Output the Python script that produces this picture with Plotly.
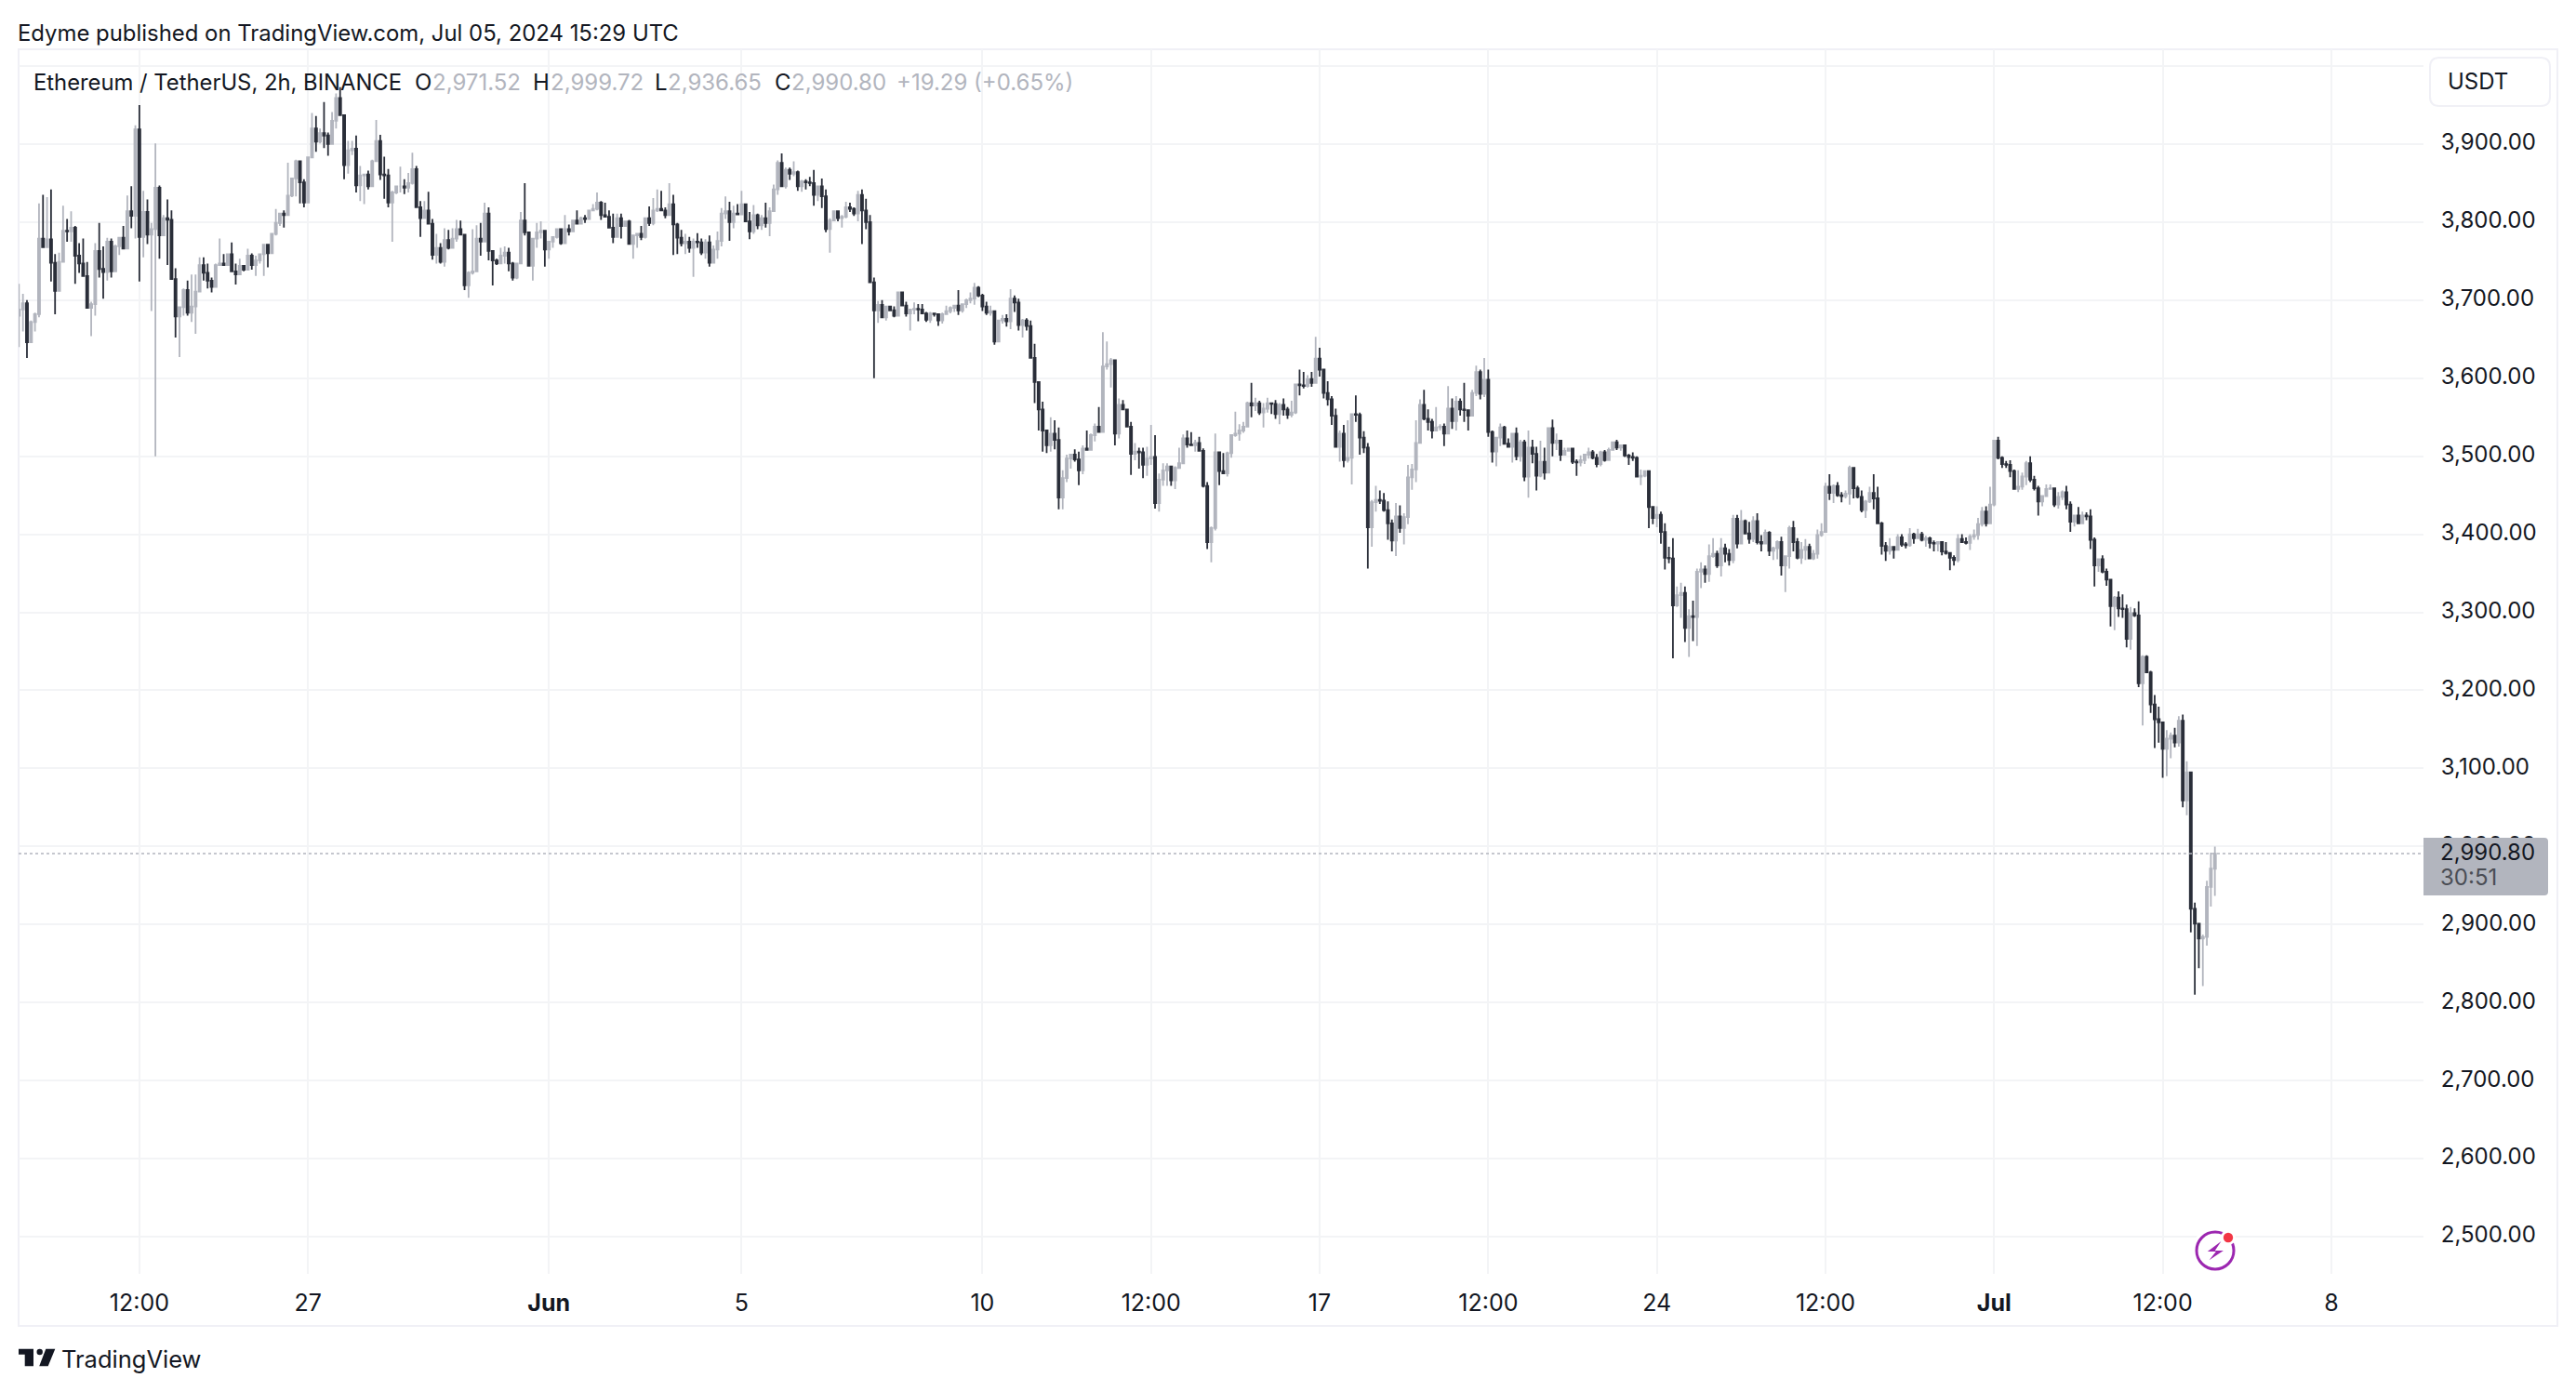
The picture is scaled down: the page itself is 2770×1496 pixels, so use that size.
import pandas as pd
import plotly.graph_objects as go

# ---- data (ETH/USDT, 2h bars) ----
first_open = 3680
close_prices = [
 3688,3696,3646,3672,3682,3779,3768,3778,3748,3712,
 3749,3789,3788,3793,3757,3747,3731,3690,3695,3763,
 3740,3736,3775,3737,3769,3780,3766,3814,3808,3919,
 3781,3813,3784,3791,3844,3783,3805,3803,3727,3679,
 3691,3713,3684,3692,3711,3745,3735,3725,3717,3745,
 3747,3745,3759,3737,3733,3744,3739,3757,3745,3751,
 3759,3771,3760,3785,3799,3811,3809,3834,3856,3878,
 3851,3825,3883,3920,3903,3914,3911,3900,3930,3959,
 3937,3873,3892,3894,3847,3860,3861,3846,3878,3904,
 3861,3860,3825,3838,3846,3846,3844,3850,3868,3819,
 3805,3815,3798,3758,3767,3749,3777,3767,3779,3791,
 3784,3719,3735,3737,3779,3775,3811,3763,3751,3747,
 3757,3761,3747,3729,3747,3802,3787,3744,3779,3787,
 3789,3765,3775,3781,3791,3773,3791,3788,3802,3798,
 3805,3804,3815,3817,3825,3809,3807,3793,3781,3805,
 3795,3801,3772,3783,3785,3781,3805,3799,3815,3817,
 3815,3809,3823,3797,3780,3773,3775,3767,3775,3774,
 3761,3774,3748,3765,3776,3811,3814,3800,3811,3810,
 3823,3801,3788,3809,3796,3805,3799,3814,3842,3876,
 3846,3867,3862,3864,3846,3852,3851,3850,3835,3846,
 3833,3791,3802,3814,3805,3807,3819,3817,3811,3835,
 3815,3800,3723,3687,3694,3678,3692,3687,3680,3710,
 3693,3683,3688,3689,3688,3683,3675,3683,3682,3674,
 3682,3686,3690,3693,3687,3695,3700,3702,3716,3706,
 3692,3684,3686,3647,3674,3676,3673,3702,3697,3668,
 3674,3667,3626,3595,3560,3533,3514,3529,3521,3447,
 3472,3497,3502,3496,3482,3510,3508,3527,3538,3531,
 3615,3618,3623,3529,3566,3560,3538,3503,3506,3505,
 3489,3497,3499,3440,3470,3482,3487,3469,3485,3491,
 3523,3515,3514,3517,3507,3462,3390,3408,3505,3481,
 3478,3504,3527,3529,3533,3538,3568,3565,3568,3556,
 3561,3568,3567,3554,3566,3560,3553,3556,3592,3591,
 3590,3599,3594,3625,3611,3581,3573,3552,3512,3529,
 3495,3498,3554,3553,3524,3511,3409,3441,3444,3443,
 3431,3414,3392,3423,3408,3422,3473,3483,3517,3566,
 3548,3544,3533,3537,3538,3529,3561,3545,3570,3560,
 3559,3552,3581,3608,3580,3598,3531,3506,3524,3537,
 3516,3512,3529,3500,3518,3474,3511,3503,3475,3493,
 3479,3536,3517,3520,3502,3507,3510,3493,3492,3495,
 3502,3505,3498,3490,3505,3495,3508,3518,3511,3514,
 3501,3499,3498,3474,3475,3481,3435,3421,3425,3403,
 3370,3369,3309,3322,3325,3280,3295,3294,3352,3355,
 3349,3372,3375,3360,3382,3375,3367,3420,3388,3417,
 3401,3394,3417,3390,3388,3402,3379,3382,3390,3360,
 3372,3408,3390,3370,3380,3384,3369,3375,3399,3403,
 3461,3453,3462,3450,3449,3452,3485,3459,3448,3431,
 3442,3453,3446,3414,3385,3379,3384,3380,3396,3387,
 3386,3400,3395,3400,3393,3395,3389,3388,3390,3378,
 3376,3370,3367,3394,3390,3389,3397,3399,3413,3429,
 3414,3438,3520,3498,3490,3489,3481,3458,3461,3474,
 3491,3470,3459,3442,3449,3458,3459,3438,3448,3454,
 3438,3416,3424,3414,3424,3423,3393,3360,3368,3352,
 3342,3308,3319,3305,3304,3266,3299,3296,3209,3243,
 3223,3182,3163,3159,3125,3138,3142,3133,3161,3059,
 3095,2920,2901,2882,2884,2948,2971.52,2990.80,
]
high_prices = [
 3721,3708,3700,3674,3684,3824,3835,3832,3842,3759,
 3761,3821,3804,3814,3795,3773,3779,3749,3698,3773,
 3799,3769,3780,3779,3771,3781,3795,3834,3846,3924,
 3950,3840,3829,3799,3901,3847,3809,3829,3815,3741,
 3692,3715,3725,3733,3733,3755,3755,3747,3729,3747,
 3779,3759,3760,3774,3747,3753,3745,3766,3760,3757,
 3760,3772,3772,3786,3817,3812,3815,3876,3857,3880,
 3879,3855,3884,3940,3936,3920,3954,3915,3941,3965,
 3973,3938,3904,3904,3911,3872,3861,3866,3880,3931,
 3912,3884,3868,3840,3846,3871,3855,3863,3889,3872,
 3827,3827,3839,3804,3785,3773,3792,3790,3792,3803,
 3802,3785,3737,3791,3796,3799,3825,3819,3763,3753,
 3767,3769,3767,3749,3747,3813,3850,3788,3779,3799,
 3801,3790,3775,3781,3791,3792,3809,3797,3803,3815,
 3807,3809,3815,3823,3838,3827,3825,3815,3811,3811,
 3811,3802,3803,3783,3785,3795,3805,3820,3831,3842,
 3840,3819,3850,3835,3799,3790,3785,3781,3779,3786,
 3779,3778,3783,3770,3788,3818,3833,3826,3821,3823,
 3840,3824,3813,3822,3811,3809,3825,3819,3848,3879,
 3888,3870,3870,3878,3866,3854,3855,3858,3867,3847,
 3856,3842,3805,3815,3815,3809,3826,3825,3819,3840,
 3842,3830,3809,3729,3699,3700,3692,3693,3692,3710,
 3710,3698,3689,3697,3695,3695,3685,3685,3684,3683,
 3684,3693,3692,3693,3713,3695,3702,3710,3722,3718,
 3708,3698,3693,3685,3675,3681,3682,3714,3706,3702,
 3676,3677,3674,3644,3596,3570,3534,3550,3546,3537,
 3482,3502,3503,3509,3506,3514,3533,3529,3542,3563,
 3659,3647,3626,3624,3574,3572,3561,3544,3517,3511,
 3511,3512,3540,3527,3478,3491,3491,3488,3487,3511,
 3528,3533,3531,3521,3525,3510,3467,3410,3529,3506,
 3504,3506,3528,3557,3541,3544,3570,3594,3575,3571,
 3568,3575,3569,3572,3568,3574,3563,3571,3593,3611,
 3608,3604,3608,3653,3639,3612,3596,3577,3561,3533,
 3540,3546,3555,3578,3556,3532,3517,3444,3462,3456,
 3453,3442,3419,3440,3437,3427,3489,3490,3546,3573,
 3585,3560,3548,3563,3541,3542,3590,3574,3577,3574,
 3594,3560,3585,3616,3611,3626,3611,3533,3525,3542,
 3539,3523,3530,3537,3521,3521,3533,3521,3512,3520,
 3511,3537,3547,3529,3521,3511,3511,3510,3496,3501,
 3503,3511,3508,3503,3507,3508,3511,3519,3521,3514,
 3513,3503,3505,3500,3483,3482,3481,3436,3436,3429,
 3414,3384,3395,3333,3338,3333,3304,3315,3356,3364,
 3360,3387,3395,3379,3395,3388,3381,3425,3425,3431,
 3419,3416,3423,3427,3399,3406,3404,3384,3392,3397,
 3373,3411,3417,3395,3390,3394,3388,3380,3406,3414,
 3466,3477,3464,3467,3454,3456,3488,3486,3462,3456,
 3444,3461,3477,3461,3416,3390,3395,3384,3400,3400,
 3390,3408,3402,3407,3403,3398,3397,3392,3391,3390,
 3390,3377,3373,3400,3400,3396,3400,3406,3421,3435,
 3436,3461,3521,3525,3500,3494,3495,3483,3482,3479,
 3494,3500,3475,3462,3449,3464,3464,3460,3454,3456,
 3462,3442,3425,3435,3429,3428,3432,3396,3369,3373,
 3356,3342,3321,3327,3323,3310,3307,3305,3314,3245,
 3245,3225,3194,3179,3160,3149,3146,3152,3167,3169,
 3109,3095,2928,2902,2887,2956,2992,2999.72,
]
low_prices = [
 3640,3660,3626,3646,3660,3678,3767,3767,3724,3682,
 3711,3748,3775,3775,3721,3735,3730,3689,3654,3680,
 3729,3702,3725,3729,3736,3758,3765,3766,3792,3779,
 3724,3755,3772,3686,3500,3753,3782,3745,3726,3652,
 3627,3680,3680,3672,3657,3711,3725,3715,3710,3716,
 3745,3745,3745,3737,3720,3733,3737,3738,3739,3731,
 3747,3731,3742,3759,3783,3795,3793,3808,3832,3833,
 3824,3819,3824,3882,3890,3901,3895,3885,3899,3920,
 3936,3855,3862,3886,3838,3827,3823,3842,3846,3878,
 3854,3830,3819,3775,3836,3838,3836,3838,3848,3819,
 3781,3805,3798,3752,3747,3747,3743,3765,3767,3775,
 3783,3713,3703,3733,3736,3757,3775,3751,3719,3745,
 3746,3747,3737,3725,3727,3746,3783,3743,3725,3767,
 3779,3743,3753,3767,3779,3771,3783,3783,3793,3798,
 3797,3799,3803,3814,3815,3803,3807,3793,3773,3787,
 3779,3795,3771,3753,3767,3777,3779,3795,3796,3813,
 3814,3805,3809,3758,3759,3769,3759,3761,3730,3767,
 3758,3753,3743,3747,3753,3769,3804,3776,3792,3809,
 3809,3800,3778,3785,3791,3790,3793,3782,3813,3835,
 3845,3843,3854,3859,3840,3839,3842,3846,3821,3827,
 3818,3787,3761,3801,3801,3793,3805,3813,3808,3801,
 3772,3791,3722,3600,3671,3677,3674,3686,3678,3680,
 3692,3679,3661,3682,3673,3682,3672,3671,3679,3667,
 3670,3681,3683,3685,3681,3684,3690,3696,3694,3704,
 3686,3681,3680,3643,3646,3670,3666,3663,3685,3661,
 3652,3661,3626,3568,3533,3506,3504,3506,3509,3432,
 3432,3467,3484,3493,3463,3477,3507,3508,3519,3530,
 3531,3611,3588,3514,3523,3559,3537,3476,3495,3484,
 3472,3475,3489,3433,3429,3462,3462,3462,3458,3485,
 3490,3511,3513,3506,3507,3460,3381,3364,3405,3463,
 3477,3474,3498,3525,3520,3530,3537,3550,3558,3553,
 3537,3556,3554,3548,3541,3552,3548,3550,3554,3578,
 3587,3588,3589,3594,3602,3574,3565,3540,3511,3493,
 3486,3492,3464,3544,3502,3504,3356,3384,3429,3439,
 3429,3393,3378,3372,3402,3387,3413,3457,3467,3517,
 3546,3533,3523,3533,3533,3513,3529,3535,3533,3552,
 3544,3533,3552,3577,3573,3576,3525,3492,3487,3513,
 3515,3511,3492,3495,3493,3468,3447,3491,3456,3473,
 3470,3478,3500,3508,3494,3501,3506,3490,3475,3487,
 3490,3497,3496,3486,3487,3493,3494,3507,3508,3507,
 3499,3489,3494,3473,3463,3473,3408,3413,3409,3388,
 3355,3363,3241,3307,3293,3262,3243,3263,3257,3331,
 3338,3339,3370,3357,3346,3364,3360,3363,3382,3387,
 3400,3388,3390,3387,3378,3387,3372,3367,3368,3347,
 3326,3356,3378,3368,3362,3367,3368,3367,3369,3397,
 3402,3444,3440,3448,3441,3446,3438,3446,3446,3428,
 3421,3440,3432,3413,3374,3366,3374,3369,3379,3384,
 3382,3384,3388,3394,3391,3384,3382,3378,3378,3373,
 3374,3354,3360,3364,3389,3387,3380,3393,3393,3410,
 3410,3413,3436,3496,3485,3485,3473,3458,3454,3457,
 3463,3467,3456,3424,3436,3448,3457,3435,3433,3444,
 3432,3403,3410,3413,3414,3418,3381,3333,3352,3350,
 3334,3282,3277,3294,3293,3255,3252,3294,3204,3155,
 3223,3171,3126,3133,3088,3090,3113,3127,3128,3050,
 3040,2890,2810,2844,2821,2873,2923,2936.65,
]
open_prices = [first_open] + close_prices[:-1]
bar_times = pd.date_range("2024-05-21 00:00", periods=len(close_prices), freq="2h")

price_ticks = list(range(2500, 4001, 100))
price_labels = [f"{p:,.2f}" if p < 4000 else "" for p in price_ticks]
time_ticks = ["2024-05-23 12:00", "2024-05-27", "2024-06-01", "2024-06-05", "2024-06-10",
              "2024-06-13 12:00", "2024-06-17", "2024-06-20 12:00", "2024-06-24",
              "2024-06-27 12:00", "2024-07-01", "2024-07-04 12:00", "2024-07-08"]
time_labels = ["12:00", "27", "<b>Jun</b>", "5", "10", "12:00", "17", "12:00", "24",
               "12:00", "<b>Jul</b>", "12:00", "8"]

UP, DOWN = "#B2B5BE", "#2A2E39"
INK, GRID, EDGE = "#131722", "#F3F4F6", "#F0F0F6"
FONT = "Inter"
W, H = 2770, 1496
L, R, T, B = 20, 2606, 53, 1370


def fx(px):
    return (px - L) / (R - L)


def fy(py):
    return (B - py) / (B - T)


def path(points, close=True):
    s = "M" + " L".join(f"{fx(a):.6f},{fy(b):.6f}" for a, b in points)
    return s + (" Z" if close else "")


def label(px, py, text, size=24, color=INK, xanchor="left"):
    return dict(xref="paper", yref="paper", x=fx(px), y=fy(py), text=text, showarrow=False,
                xanchor=xanchor, yanchor="middle", borderpad=0,
                font=dict(family=FONT, size=size, color=color))


def circle(cx, cy, r, fill=None, line=None, width=0):
    return dict(type="circle", xref="paper", yref="paper", layer="above",
                x0=fx(cx - r), x1=fx(cx + r), y0=fy(cy + r), y1=fy(cy - r),
                fillcolor=fill or "rgba(0,0,0,0)", line=dict(color=line or "rgba(0,0,0,0)", width=width))


def rounded(x0, y0, x1, y1, r):
    return (f"M{fx(x0 + r):.6f},{fy(y0):.6f} L{fx(x1 - r):.6f},{fy(y0):.6f} "
            f"Q{fx(x1):.6f},{fy(y0):.6f} {fx(x1):.6f},{fy(y0 + r):.6f} "
            f"L{fx(x1):.6f},{fy(y1 - r):.6f} Q{fx(x1):.6f},{fy(y1):.6f} {fx(x1 - r):.6f},{fy(y1):.6f} "
            f"L{fx(x0 + r):.6f},{fy(y1):.6f} Q{fx(x0):.6f},{fy(y1):.6f} {fx(x0):.6f},{fy(y1 - r):.6f} "
            f"L{fx(x0):.6f},{fy(y0 + r):.6f} Q{fx(x0):.6f},{fy(y0):.6f} {fx(x0 + r):.6f},{fy(y0):.6f} Z")


fig = go.Figure(go.Candlestick(
    x=bar_times, open=open_prices, high=high_prices, low=low_prices, close=close_prices,
    increasing=dict(line=dict(color=UP, width=1.8), fillcolor=UP),
    decreasing=dict(line=dict(color=DOWN, width=1.8), fillcolor=DOWN),
    whiskerwidth=0, showlegend=False,
))

shapes = [
    # outer frame
    dict(type="rect", xref="paper", yref="paper", layer="below", x0=0, x1=fx(2750), y0=fy(1426), y1=1,
         line=dict(color=EDGE, width=2), fillcolor="rgba(0,0,0,0)"),
    # last price line
    dict(type="line", xref="paper", yref="y", layer="above", x0=0, x1=1,
         y0=close_prices[-1], y1=close_prices[-1], line=dict(color=UP, width=1.5, dash="dot")),
    # price tag
    dict(type="path", xref="paper", yref="paper", layer="above",
         path=(f"M{fx(2606):.6f},{fy(901):.6f} L{fx(2736):.6f},{fy(901):.6f} "
               f"Q{fx(2740):.6f},{fy(901):.6f} {fx(2740):.6f},{fy(905):.6f} "
               f"L{fx(2740):.6f},{fy(959):.6f} Q{fx(2740):.6f},{fy(963):.6f} {fx(2736):.6f},{fy(963):.6f} "
               f"L{fx(2606):.6f},{fy(963):.6f} Z"),
         fillcolor=UP, line=dict(width=0)),
    # currency button
    dict(type="path", xref="paper", yref="paper", layer="above", path=rounded(2613, 62, 2742, 114, 10),
         fillcolor="white", line=dict(color=EDGE, width=2)),
    # TradingView mark
    dict(type="path", xref="paper", yref="paper", layer="above",
         path=path([(20, 1450.7), (36, 1450.7), (36, 1469.3), (26.7, 1469.3), (26.7, 1456.7), (20, 1456.7)]),
         fillcolor=INK, line=dict(width=0)),
    circle(42.7, 1454, 3.2, fill=INK),
    dict(type="path", xref="paper", yref="paper", layer="above",
         path=path([(49.3, 1450.7), (59.3, 1450.7), (51.7, 1469.3), (42.2, 1469.3)]),
         fillcolor=INK, line=dict(width=0)),
    # lightning badge
    circle(2382, 1345, 25, fill="white"),
    circle(2382, 1345, 20, line="#9C27B0", width=3),
    dict(type="path", xref="paper", yref="paper", layer="above",
         path=path([(2388.4, 1335), (2373.8, 1346), (2382.9, 1346), (2375.6, 1355.3), (2390.9, 1345), (2381.8, 1345)]),
         fillcolor="#9C27B0", line=dict(width=0)),
    circle(2396, 1331, 8, fill="white"),
    circle(2396, 1331, 5.2, fill="#F23645"),
]

annotations = [
    label(18, 35, "Edyme published on TradingView.com, Jul 05, 2024 15:29 UTC", size=23.9),
    label(35, 89, "Ethereum / TetherUS, 2h, BINANCE", size=23.8),
    label(445, 89, "O"), label(464, 89, "2,971.52", color=UP),
    label(572, 89, "H"), label(591, 89, "2,999.72", color=UP),
    label(703, 89, "L"), label(717, 89, "2,936.65", color=UP),
    label(832, 89, "C"), label(850, 89, "2,990.80", color=UP),
    label(963, 89, "+19.29 (+0.65%)", color=UP),
    label(2631, 87, "USDT"),
    label(2623, 916, "2,990.80"),
    label(2623, 943, "30:51", color="#4A4D55"),
    label(65, 1461, "TradingView", size=25.5),
]

fig.update_layout(
    width=W, height=H, autosize=False,
    margin=dict(l=L, r=W - R, t=T, b=H - B, pad=0),
    paper_bgcolor="white", plot_bgcolor="white",
    font=dict(family=FONT, size=24, color=INK),
    shapes=shapes, annotations=annotations,
    xaxis=dict(
        type="date", range=["2024-05-20 23:50", "2024-07-09 21:55"], rangeslider=dict(visible=False),
        tickmode="array", tickvals=time_ticks, ticktext=time_labels,
        showgrid=True, gridcolor=GRID, gridwidth=2, zeroline=False, showline=False,
        ticks="outside", ticklen=9, tickcolor="rgba(0,0,0,0)",
        tickfont=dict(family=FONT, size=25, color=INK),
    ),
    yaxis=dict(
        side="right", range=[2452.3, 4021.5],
        tickmode="array", tickvals=price_ticks, ticktext=price_labels,
        showgrid=True, gridcolor=GRID, gridwidth=2, zeroline=False, showline=False,
        ticks="outside", ticklen=13, tickcolor="rgba(0,0,0,0)", ticklabelshift=-2,
        tickfont=dict(family=FONT, size=24, color=INK),
    ),
)

fig.write_html("out.html", config=dict(displayModeBar=False),
               post_script="document.body.style.margin='0';document.body.style.overflow='hidden';")
